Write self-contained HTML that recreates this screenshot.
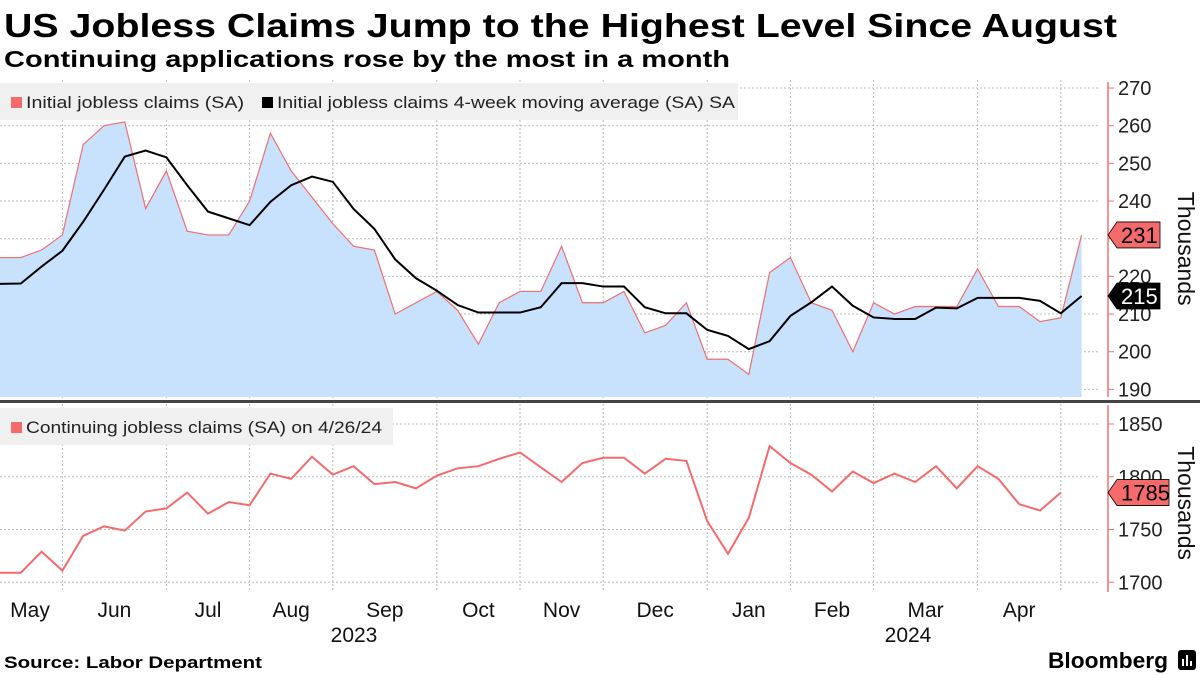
<!DOCTYPE html>
<html><head><meta charset="utf-8"><style>
html,body{margin:0;padding:0;background:#fff;}
svg{display:block;font-family:"Liberation Sans",sans-serif;}
</style></head><body>
<svg id="chart" width="1200" height="675" viewBox="0 0 1200 675">
<text x="4" y="37" font-size="33" font-weight="bold" textLength="1113" lengthAdjust="spacingAndGlyphs">US Jobless Claims Jump to the Highest Level Since August</text>
<text x="4" y="67" font-size="23" font-weight="bold" textLength="726" lengthAdjust="spacingAndGlyphs">Continuing applications rose by the most in a month</text>
<g id="grid"></g>
<g id="topPanel"></g>
<g id="botPanel"></g>
<g id="axes"></g>
<text x="4" y="668" font-size="17" font-weight="bold" textLength="258" lengthAdjust="spacingAndGlyphs">Source: Labor Department</text>
<g>
<text x="1048" y="668" font-size="22" font-weight="bold" textLength="120" lengthAdjust="spacingAndGlyphs">Bloomberg</text>
<rect x="1178" y="650" width="18" height="20" rx="3" fill="#000"/>
<rect x="1182" y="659" width="2" height="7" fill="#fff"/><rect x="1186" y="655" width="2" height="11" fill="#fff"/><rect x="1190" y="661" width="2" height="5" fill="#fff"/>
</g>
</svg>
<script>
const initialClaims=[225,225,227,231,255,260,261,238,248,232,231,231,240,258,248,241,234,228,227,210,213,216,211,202,213,216,216,228,213,213,216,205,207,213,198,198,194,221,225,213,211,200,213,210,212,212,212,222,212,212,208,209,231];
const movingAvg=[218,218.1,222.6,226.8,234.5,243,251.8,253.4,251.6,244.2,237.2,235.4,233.6,239.8,244.2,246.5,245.1,237.9,232.6,224.5,219.5,216.2,212.4,210.4,210.4,210.4,211.8,218.2,218.2,217.3,217.3,211.8,210.2,210.2,205.8,204.2,200.7,202.8,209.5,213.1,217.3,212.2,209.1,208.7,208.7,211.7,211.5,214.3,214.3,214.3,213.5,210.2,214.8];
const continuingClaims=[1709,1709,1729,1711,1744,1753,1749,1767,1770,1785,1765,1776,1773,1803,1798,1819,1802,1810,1793,1795,1789,1801,1808,1810,1817,1823,1809,1795,1813,1818,1818,1803,1817,1815,1758,1727,1761,1829,1813,1802,1786,1805,1794,1803,1795,1810,1789,1810,1798,1774,1768,1785];
const topTicks=[190,200,210,220,230,240,250,260,270];
const botTicks=[1700,1750,1800,1850];
const monthLabels=["May","Jun","Jul","Aug","Sep","Oct","Nov","Dec","Jan","Feb","Mar","Apr"];
const monthStartIdx=[3,8,12,16,21,25,29,34,38,42,47,51];
const yearLabels=["2023","2024"];

const NS="http://www.w3.org/2000/svg";
function mk(tag,attrs,parent){const e=document.createElementNS(NS,tag);for(const k in attrs)e.setAttribute(k,attrs[k]);parent.appendChild(e);return e;}
const X=i=>i*20.8;
const YT=v=>125.7+(260-v)*3.767;
const YB=v=>424+(1850-v)*1.055;
const gGrid=document.getElementById('grid'),gTop=document.getElementById('topPanel'),gBot=document.getElementById('botPanel'),gAxes=document.getElementById('axes');

topTicks.forEach(t=>{const l=mk('line',{x1:0,x2:1100,y1:YT(t),y2:YT(t),stroke:'#bbb','stroke-dasharray':'2,2','stroke-width':1},gGrid);

});
botTicks.forEach(t=>{const l=mk('line',{x1:0,x2:1100,y1:YB(t),y2:YB(t),stroke:'#bbb','stroke-dasharray':'2,2','stroke-width':1},gGrid);

});
monthStartIdx.forEach(i=>{const l=mk('line',{x1:X(i),x2:X(i),y1:80,y2:592,stroke:'#bbb','stroke-dasharray':'2,2','stroke-width':1},gGrid);

});

let d='M0,397 '+initialClaims.map((v,i)=>'L'+X(i)+','+YT(v)).join(' ')+' L'+X(initialClaims.length-1)+',397 Z';
const area=mk('path',{d:d,fill:'#c8e1fc'},gTop);


const rl=mk('polyline',{points:initialClaims.map((v,i)=>X(i)+','+YT(v)).join(' '),fill:'none',stroke:'#f07070','stroke-width':1.2},gTop);


const ml=mk('polyline',{points:movingAvg.map((v,i)=>X(i)+','+YT(v)).join(' '),fill:'none',stroke:'#000','stroke-width':2},gTop);



const sep=mk('rect',{x:0,y:400,width:1200,height:3,fill:'#444'},gAxes);



const bl=mk('polyline',{points:continuingClaims.map((v,i)=>X(i)+','+YB(v)).join(' '),fill:'none',stroke:'#f56b6b','stroke-width':2},gBot);



const ax1=mk('line',{x1:1108,x2:1108,y1:82,y2:397,stroke:'#f07070','stroke-width':1.5},gAxes);


const ax2=mk('line',{x1:1108,x2:1108,y1:405,y2:592,stroke:'#f07070','stroke-width':1.5},gAxes);


topTicks.forEach(t=>{mk('line',{x1:1108,x2:1114,y1:YT(t),y2:YT(t),stroke:'#f07070'},gAxes);
const tx=mk('text',{x:1118,y:YT(t)+7,'font-size':20,fill:'#222'},gAxes);tx.textContent=t;

});
botTicks.forEach(t=>{mk('line',{x1:1108,x2:1114,y1:YB(t),y2:YB(t),stroke:'#f07070'},gAxes);
const tx=mk('text',{x:1118,y:YB(t)+7,'font-size':20,fill:'#222'},gAxes);tx.textContent=t;

});

function tag(v,y,fill,col,name,w){const g=mk('g',{},gAxes);


mk('path',{d:`M1108,${y} L1117,${y-13} L${1117+w},${y-13} L${1117+w},${y+13} L1117,${y+13} Z`,fill:fill,stroke:'#000','stroke-width':0.8},g);
const t=mk('text',{x:1121,y:y+8,'font-size':22,fill:col},g);t.textContent=v;}
tag(initialClaims[initialClaims.length-1],YT(initialClaims[initialClaims.length-1]),'#f56b6b','#000','initial-claims-value-tag',43);
tag(Math.round(movingAvg[movingAvg.length-1]),YT(movingAvg[movingAvg.length-1]),'#000','#fff','moving-average-value-tag',43);
tag(continuingClaims[continuingClaims.length-1],YB(continuingClaims[continuingClaims.length-1]),'#f56b6b','#000','continuing-claims-value-tag',52);

[[ (YT(270)+YT(190))/2+10,'top-y-axis-title'],[(YB(1850)+YB(1700))/2,'bottom-y-axis-title']].forEach(([cy,n])=>{
const t=mk('text',{x:1178,y:cy,'font-size':23,'text-anchor':'middle',transform:`rotate(90 1178 ${cy})`,fill:'#111'},gAxes);t.textContent='Thousands';

});

const bounds=[-1.5].concat(monthStartIdx,[55]);
monthLabels.forEach((m,k)=>{const cx=(X(bounds[k]<0?0:bounds[k])+X(bounds[k+1]))/2;
const cxx=k===0?30:cx;
const t=mk('text',{x:cxx,y:617,'font-size':21,'text-anchor':'middle',fill:'#111'},gAxes);t.textContent=m;

});
[[354,yearLabels[0]],[908,yearLabels[1]]].forEach(([x,y])=>{const t=mk('text',{x:x,y:642,'font-size':21,'text-anchor':'middle',fill:'#111'},gAxes);t.textContent=y;

});

function legend(x,y,w,items,name){const g=mk('g',{},gAxes);


mk('rect',{x:x,y:y,width:w,height:37,fill:'#f0f0f0'},g);
items.forEach(([ix,col,txt,tw])=>{mk('rect',{x:ix,y:y+14,width:11,height:11,fill:col},g);
const t=mk('text',{x:ix+15,y:y+25,'font-size':17,fill:'#222',textLength:tw,lengthAdjust:'spacingAndGlyphs'},g);t.textContent=txt;});}
legend(0,83,738,[[11,'#f56b6b','Initial jobless claims (SA)',218],[262,'#000','Initial jobless claims 4-week moving average (SA) SA',458]],'top-legend');
legend(0,408,393,[[11,'#f56b6b','Continuing jobless claims (SA) on 4/26/24',356]],'bottom-legend');
</script>
</body></html>
